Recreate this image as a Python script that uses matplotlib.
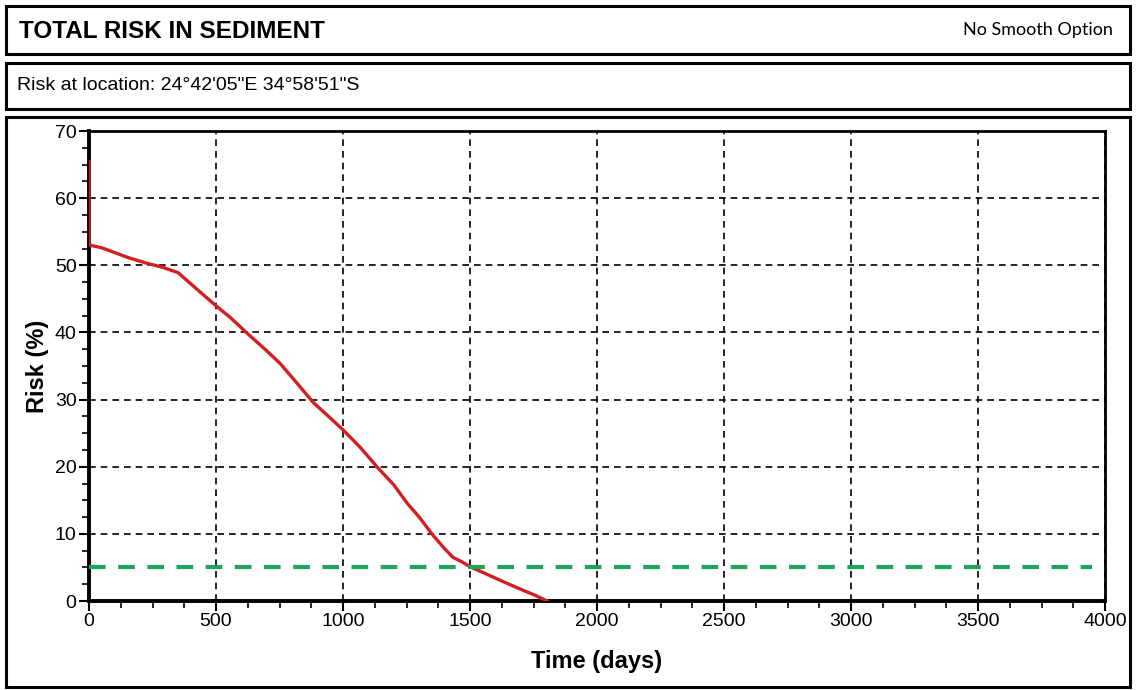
from matplotlib import pyplot as plt
from matplotlib.patches import Rectangle
from matplotlib.ticker import MultipleLocator

# Kurve (Zeit in Tagen, Risiko in %)
days = [0, 0, 4, 50, 94, 150, 228, 290, 351, 420, 496, 560, 622, 690, 752, 820, 882,
        940, 1000, 1070, 1138, 1200, 1252, 1300, 1354, 1400, 1433, 1470, 1500, 1560,
        1618, 1660, 1709, 1760, 1803]
risk = [65.4, 53.3, 53.0, 52.6, 52.0, 51.2, 50.3, 49.7, 48.9, 46.6, 44.1, 42.1, 39.9,
        37.6, 35.4, 32.4, 29.6, 27.6, 25.5, 22.8, 19.8, 17.3, 14.6, 12.5, 9.8, 7.8,
        6.5, 5.8, 5.1, 4.1, 3.1, 2.4, 1.6, 0.8, 0.0]

# Grenzwert
threshold = 5
threshold_days = [0, 3950]

plt.rcParams['font.family'] = ['Liberation Sans', 'DejaVu Sans']

fig = plt.figure(figsize=(11.36, 6.9), dpi=100)
W, H = 1136., 690.


def box(x0, y0, x1, y1):
    fig.patches.append(Rectangle((x0 / W, 1 - y1 / H), (x1 - x0) / W, (y1 - y0) / H,
                                 transform=fig.transFigure, fill=False,
                                 edgecolor='black', linewidth=2.2))


box(6, 6, 1130, 54)
box(6, 63, 1130, 109)
box(6, 117, 1130, 687)

fig.text(19 / W, 1 - 31 / H, 'TOTAL RISK IN SEDIMENT', fontsize=17.5, fontweight='bold',
         va='center', ha='left')
fig.text(1113 / W, 1 - 30 / H, 'No Smooth Option', fontsize=13, va='center', ha='right',
         family=['Lato', 'DejaVu Sans'])
fig.text(17 / W, 1 - 86 / H, 'Risk at location: 24°42\'05"E 34°58\'51"S', fontsize=14,
         va='center', ha='left')

ax = fig.add_axes([89 / W, 1 - 601 / H, 1016 / W, 470 / H])
ax.plot(days, risk, color='#d21f1f', linewidth=2.4, zorder=3)
ax.plot(threshold_days, [threshold, threshold], color='#1fa55a', linewidth=3,
        linestyle=(0, (4, 3)), zorder=3)

ax.set_xlim(0, 4000)
ax.set_ylim(0, 70)
ax.xaxis.set_major_locator(MultipleLocator(500))
ax.xaxis.set_minor_locator(MultipleLocator(125))
ax.yaxis.set_major_locator(MultipleLocator(10))
ax.yaxis.set_minor_locator(MultipleLocator(2.5))
ax.grid(True, which='major', color='black', linestyle=(0, (4, 3)), linewidth=1.2)

for s in ['left', 'bottom']:
    ax.spines[s].set_linewidth(2.8)
for s in ['top', 'right']:
    ax.spines[s].set_linewidth(2)

ax.tick_params(which='major', direction='out', length=7, width=1.5, labelsize=14, pad=2)
ax.tick_params(which='minor', direction='out', length=5, width=1.2)

ax.set_xlabel('Time (days)', fontsize=17, fontweight='bold', labelpad=14)
ax.set_ylabel('Risk (%)', fontsize=17, fontweight='bold', labelpad=4)

plt.savefig('out.png', dpi=100)
